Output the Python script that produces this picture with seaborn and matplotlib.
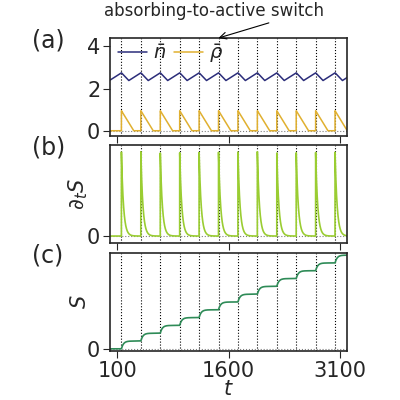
import numpy as np
import matplotlib
matplotlib.use("Agg")
import matplotlib.pyplot as plt
import seaborn as sns

sns.set_style("ticks")
plt.rcParams['font.family'] = ['DejaVu Sans']

# switch times (absorbing-to-active)
switch_times = [154, 416, 678, 940, 1202, 1464, 1726, 1988, 2250, 2512, 2774, 3036]
rho_peak = [0.95, 0.95, 0.95, 0.95, 0.95, 0.95, 0.95, 0.95, 0.95, 0.95, 0.95, 0.95]
rho_decay = 165          # duration of linear decay of rho
n_high = 2.75
n_low = 2.38
ds_peak = [1.0, 1.0, 1.0, 1.0, 1.0, 1.0, 1.0, 1.0, 1.0, 1.0, 1.0, 1.0]
ds_tau = 28
s_steps = [1, 1, 1, 1, 1, 1, 1, 1, 1, 1, 1, 1]

t = np.linspace(0, 3200, 6000)
rho = np.zeros_like(t)
n = np.full_like(t, n_low + 0.12)
ds = np.zeros_like(t)
S = np.zeros_like(t)
for ts, rp, dp, st in zip(switch_times, rho_peak, ds_peak, s_steps):
    m = (t >= ts)
    dt = t - ts
    seg = m & (dt < rho_decay)
    rho[seg] = rp * (1 - dt[seg] / rho_decay)
    ds[m] += dp * np.exp(-dt[m] / ds_tau)
    S[m] += st * (1 - np.exp(-dt[m] / ds_tau))
period = switch_times[1] - switch_times[0]
for i, ti in enumerate(t):
    ph = ((ti - switch_times[0]) % period)
    if ph < rho_decay * 0.6:
        n[i] = n_high - (n_high - n_low) * ph / (rho_decay * 0.6)
    else:
        n[i] = n_low + (n_high - n_low) * (ph - rho_decay * 0.6) / (period - rho_decay * 0.6)

fig = plt.figure(figsize=(4, 4), dpi=100)
axs = [fig.add_axes([0.275, 0.66, 0.593, 0.245]),
       fig.add_axes([0.275, 0.393, 0.593, 0.245]),
       fig.add_axes([0.275, 0.123, 0.593, 0.245])]

sns.lineplot(x=t, y=n, ax=axs[0], color="#2b2d7a", lw=1.1, label=r"$\bar{n}$")
sns.lineplot(x=t, y=rho, ax=axs[0], color="#e0b030", lw=1.1, label=r"$\bar{\rho}$")
sns.lineplot(x=t, y=ds, ax=axs[1], color="#9acd32", lw=1.2)
sns.lineplot(x=t, y=S, ax=axs[2], color="#2e8b57", lw=1.2)

for ax in axs:
    for ts in switch_times:
        ax.axvline(ts, color="k", ls=":", lw=0.8, zorder=0)
    ax.axhline(0, color="gray", ls=":", lw=0.8, zorder=0)
    ax.set_xlim(0, 3200)
    ax.set_xticks([100, 1600, 3100])
    ax.tick_params(labelsize=15, length=5, pad=2)
    for sp in ax.spines.values():
        sp.set_visible(True)
        sp.set_linewidth(1.2)
axs[0].set_xticklabels([]); axs[1].set_xticklabels([])
axs[0].set_ylim(-0.25, 4.4); axs[0].set_yticks([0, 2, 4])
axs[1].set_ylim(-0.08, 1.08); axs[1].set_yticks([0])
axs[2].set_ylim(-0.25, 12.3); axs[2].set_yticks([0])
axs[1].set_ylabel(r"$\partial_t S$", fontsize=15, labelpad=-2)
axs[2].set_ylabel(r"$S$", fontsize=15, labelpad=-2)
axs[2].set_xlabel(r"$t$", fontsize=15, labelpad=-1)
axs[0].legend(loc="upper left", ncol=2, frameon=False, fontsize=14,
              handlelength=1.5, handletextpad=0.3, columnspacing=0.4,
              borderaxespad=0.0, bbox_to_anchor=(0.0, 1.04))
for ax, lab in zip(axs, ["(a)", "(b)", "(c)"]):
    ax.text(-0.33, 0.97, lab, transform=ax.transAxes, fontsize=17, va="center")
axs[0].annotate("absorbing-to-active switch", xy=(1464, 4.4), xytext=(1400, 5.7),
                fontsize=12, ha="center", va="center", annotation_clip=False,
                arrowprops=dict(arrowstyle="->", color="k", lw=0.8,
                                shrinkA=0, shrinkB=0, relpos=(0.8, 0.0)))
fig.savefig("out.png", dpi=100)
